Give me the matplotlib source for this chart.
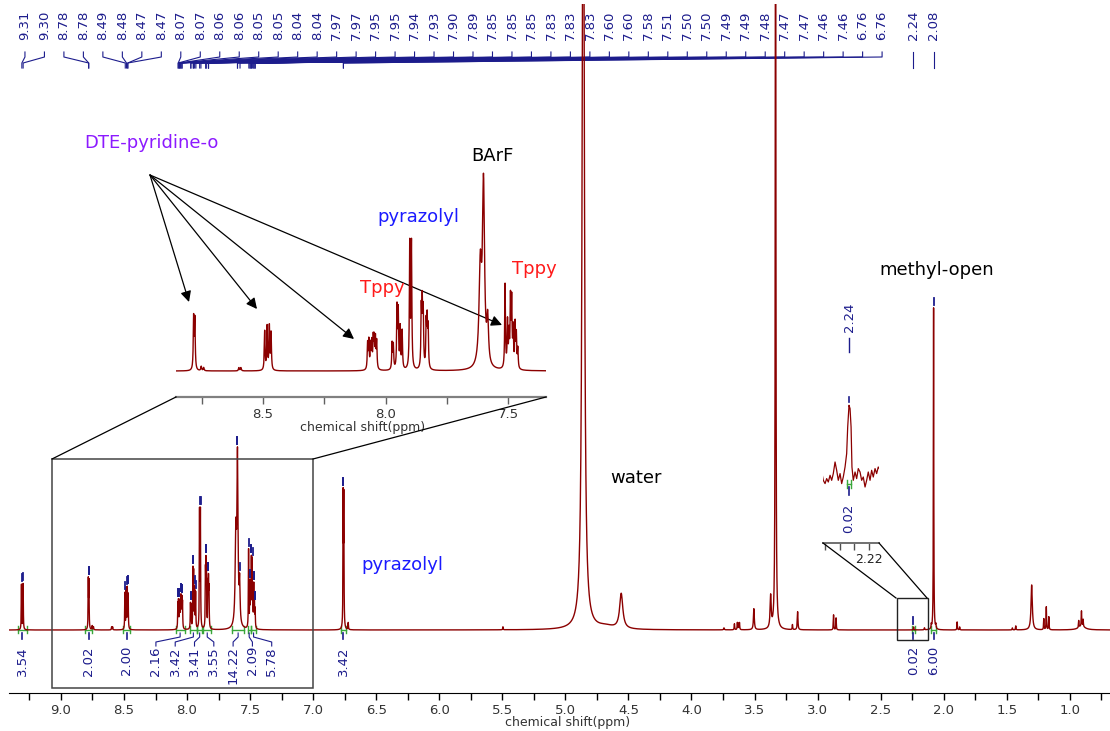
import numpy as np
import matplotlib
matplotlib.use("Agg")
import matplotlib.pyplot as plt
from matplotlib.patches import Rectangle
from matplotlib.lines import Line2D
from matplotlib.ticker import MultipleLocator, FixedLocator

W, H = 1110, 731

# ---- peaks (ppm, height in px above baseline, half width in ppm)
peak_ppm = [9.313, 9.300, 8.783, 8.778, 8.752, 8.742, 8.598, 8.590,
            8.493, 8.483, 8.474, 8.467,
            8.073, 8.068, 8.061, 8.056, 8.050, 8.046, 8.041, 8.036,
            7.973, 7.968, 7.953, 7.948, 7.940, 7.932, 7.901, 7.894,
            7.854, 7.850, 7.846, 7.834, 7.830, 7.826,
            7.613, 7.600, 7.583,
            7.512, 7.502, 7.496, 7.490, 7.485, 7.479, 7.471, 7.466, 7.460,
            6.762, 6.757, 6.722, 5.495,
            4.858, 4.680, 4.557, 3.742, 3.659, 3.636, 3.628, 3.619,
            3.505, 3.372, 3.333, 3.199, 3.158, 2.873, 2.853,
            2.238, 2.152, 2.098, 2.080, 2.062, 1.893, 1.873, 1.455, 1.428,
            1.302, 1.206, 1.186, 1.166, 0.929, 0.907, 0.894, 0.905]
peak_height = [45, 46, 48, 46, 4, 3, 3, 3,
               36, 40, 40, 34,
               24, 26, 22, 24, 27, 26, 27, 25,
               24, 22, 56, 52, 38, 35, 115, 115,
               52, 56, 50, 40, 42, 36,
               90, 165, 40,
               78, 42, 30, 62, 60, 35, 40, 30, 18,
               128, 126, 7, 3,
               940, 3, 35, 2, 6, 7, 6, 7,
               21, 32, 1000, 5, 18, 15, 12,
               3, 2, 4, 323, 4, 8, 3, 2, 4,
               45, 11, 23, 13, 7, 15, 7, 4]
peak_width = [0.0018] * 4 + [0.002] * 4 + [0.0018] * 26 + [0.006, 0.005, 0.004] \
    + [0.0018] * 9 + [0.0018, 0.0018, 0.002, 0.002] \
    + [0.0092, 0.08, 0.015, 0.003, 0.002, 0.002, 0.002, 0.002,
       0.004, 0.005, 0.0025, 0.002, 0.003, 0.002, 0.002,
       0.002, 0.002, 0.002, 0.0018, 0.002, 0.002, 0.002, 0.002, 0.002,
       0.006, 0.002, 0.002, 0.002, 0.002, 0.002, 0.002, 0.03]

# ---- peak picking labels
peak_labels = ["9.31", "9.30", "8.78", "8.78", "8.49", "8.48", "8.47", "8.47",
               "8.07", "8.07", "8.06", "8.06", "8.05", "8.05", "8.04", "8.04",
               "7.97", "7.97", "7.95", "7.95", "7.94", "7.93", "7.90", "7.89",
               "7.85", "7.85", "7.85", "7.83", "7.83", "7.83", "7.60", "7.60",
               "7.58", "7.51", "7.50", "7.50", "7.49", "7.49", "7.48", "7.47",
               "7.47", "7.46", "7.46", "6.76", "6.76", "2.24", "2.08"]

# ---- integrals
int_start = [9.34, 8.81, 8.51, 8.09, 7.98, 7.92, 7.87, 7.64, 7.52, 7.495, 6.78, 2.25, 2.10]
int_end = [9.27, 8.75, 8.45, 8.02, 7.92, 7.88, 7.81, 7.55, 7.495, 7.45, 6.74, 2.23, 2.06]
int_labels = ["3.54", "2.02", "2.00", "2.16", "3.42", "3.41", "3.55",
              "14.22", "2.09", "5.78", "3.42", "0.02", "6.00"]

# ---- zoomed noise trace around 2.24 ppm (small inset)
zoom_ppm = [2.2522, 2.2511, 2.2499, 2.2488, 2.2477, 2.2465, 2.2454, 2.2443, 2.2431,
            2.2420, 2.2409, 2.2397, 2.2386, 2.2375, 2.2363, 2.2352, 2.2345, 2.2336,
            2.2329, 2.2322, 2.2316, 2.2307, 2.2295, 2.2284, 2.2273, 2.2261, 2.2250,
            2.2239, 2.2227, 2.2216, 2.2205, 2.2193, 2.2182, 2.2171, 2.2159, 2.2148,
            2.2137, 2.2130]
zoom_int = [5, -3.3, -6.6, -1.6, -5, 1.7, -3.3, 3.4, 15, 6.7, -3.3, 3.4, -6.6, 0,
            10, 23.4, 50, 71.7, 68.4, 50, 10, -3.3, 5, -1.6, 8.4, 5, -3.3, 0, -10,
            -3.3, 5, -3.3, 6.7, 0, 8.4, 3.4, 10, 8.4]

RED = "#8b0000"
NAVY = "#1c1c8c"
GREEN = "#3aa63a"

ppm = np.linspace(0.66, 9.44, 28000)
spec = np.zeros_like(ppm)
for p, h, w in zip(peak_ppm, peak_height, peak_width):
    spec += h / (1 + ((ppm - p) / w) ** 2)


def fp(x, y):
    return x / W, 1 - y / H


fig = plt.figure(figsize=(W / 100, H / 100), dpi=100)

# ---------------- main axes (y data = 630 - y_px)
ax = fig.add_axes([9 / W, 1 - 693 / H, 1101 / W, 689 / H])
ax.set_facecolor("none")
ax.plot(ppm, spec, color=RED, lw=1.0, zorder=3)
ax.set_xlim(9.412, 0.681)
ax.set_ylim(-63, 626)
for s in ["left", "right", "top"]:
    ax.spines[s].set_visible(False)
ax.set_yticks([])
ax.xaxis.set_major_locator(MultipleLocator(0.5))
ax.xaxis.set_minor_locator(MultipleLocator(0.25))
ax.xaxis.set_major_formatter(plt.FormatStrFormatter("%.1f"))
ax.tick_params(axis="x", which="both", direction="out", length=5, width=1,
               labelsize=9.5, labelcolor="#333333", pad=3)
ax.set_xlabel("chemical shift(ppm)", fontsize=9, color="#333333")
ax.xaxis.set_label_coords((568 - 9) / 1101, -0.033)

# peak labels at the top
step = 19.48 / 126.1
for i, lab in enumerate(peak_labels):
    pv = float(lab)
    win = (ppm > pv - 0.005) & (ppm < pv + 0.005)
    top = spec[win].max()
    if i < 45:
        lx = 9.2855 - i * step
    else:
        lx = pv
    ax.text(lx, 590, lab, rotation=90, ha="center", va="bottom",
            fontsize=9.5, color=NAVY)
    ax.plot([lx, lx, pv, pv], [578, 573, 567, 562], color=NAVY, lw=0.8,
            clip_on=False)
    ax.plot([pv, pv], [top + 3, top + 10], color=NAVY, lw=1.3, zorder=4)

# integrals
istep = 19.3 / 126.1
k = 0
for s, e, lab in zip(int_start, int_end, int_labels):
    c = (s + e) / 2
    ax.plot([s, s], [-3, 4], color=GREEN, lw=1, zorder=2)
    ax.plot([e, e], [-3, 4], color=GREEN, lw=1, zorder=2)
    ax.plot([s, e], [0.5, 0.5], color=GREEN, lw=1, zorder=2)
    if 8.1 > c > 7.4:
        lx = 8.247 - k * istep
        k += 1
        ax.plot([lx, lx, c, c], [-16, -12, -7, -3], color=NAVY, lw=0.8)
    else:
        lx = c
        ax.plot([c, c], [-3, -9], color=NAVY, lw=1.2)
    ax.text(lx, -16, lab, rotation=90, ha="center", va="top",
            fontsize=9.5, color=NAVY)

# zoom rectangles
ax.add_patch(Rectangle((9.071, -58), 7.002 - 9.071, 229, fill=False,
                       edgecolor="#444444", lw=1.1, zorder=5))
ax.add_patch(Rectangle((2.373, -10), 2.127 - 2.373, 42, fill=False,
                       edgecolor="#222222", lw=1.0, zorder=5))

# annotations on main plot
ax.text(*fp(361, 565), "pyrazolyl", transform=fig.transFigure, fontsize=13,
        color="#1a1aff", ha="left", va="center")
ax.text(*fp(636, 478), "water", transform=fig.transFigure, fontsize=13,
        color="black", ha="center", va="center")
ax.text(*fp(937, 270), "methyl-open", transform=fig.transFigure, fontsize=13,
        color="black", ha="center", va="center")

# connector lines for insets
for (x1, y1), (x2, y2) in [((52, 459), (176, 397)), ((313, 459), (546, 397)),
                           ((823, 543), (896, 598)), ((879, 543), (927, 598))]:
    fig.add_artist(Line2D([x1 / W, x2 / W], [1 - y1 / H, 1 - y2 / H],
                          color="black", lw=0.9))

# ---------------- large inset (y data = 371 - y_px)
ax_in = fig.add_axes([176 / W, 1 - 397 / H, 370 / W, 257 / H])
ax_in.set_facecolor("none")
ax_in.plot(ppm, spec * 1.08, color=RED, lw=1.0)
ax_in.set_xlim(8.855, 7.345)
ax_in.set_ylim(-26, 231)
for s in ["left", "right", "top"]:
    ax_in.spines[s].set_visible(False)
ax_in.spines["bottom"].set_color("#808080")
ax_in.spines["bottom"].set_linewidth(1.6)
ax_in.set_yticks([])
ax_in.xaxis.set_major_locator(MultipleLocator(0.5))
ax_in.xaxis.set_minor_locator(MultipleLocator(0.25))
ax_in.xaxis.set_major_formatter(plt.FormatStrFormatter("%.1f"))
ax_in.tick_params(axis="x", which="both", direction="out", length=5, width=1,
                  color="#606060", labelsize=9.5, labelcolor="#333333", pad=3)
ax_in.set_xlabel("chemical shift(ppm)", fontsize=9, color="#333333")
ax_in.xaxis.set_label_coords(0.505, -0.095)

ax_in.text(*fp(492, 156), "BArF", transform=fig.transFigure, fontsize=13,
           color="black", ha="center", va="center")
ax_in.text(*fp(377, 217), "pyrazolyl", transform=fig.transFigure, fontsize=13,
           color="#1a1aff", ha="left", va="center")
ax_in.text(*fp(360, 288), "Tppy", transform=fig.transFigure, fontsize=13,
           color="#ff1a1a", ha="left", va="center")
t = ax_in.text(*fp(512, 269), "Tppy", transform=fig.transFigure, fontsize=13,
               color="#ff1a1a", ha="left", va="center")
t.set_clip_path(ax_in.patch)

fig.text(*fp(84, 143), "DTE-pyridine-o", fontsize=13, color="#8c1aff",
         ha="left", va="center")
for tip in [(189, 302), (257, 309), (354, 339), (502, 325)]:
    ax.annotate("", xy=fp(*tip), xytext=fp(150, 175),
                xycoords="figure fraction", textcoords="figure fraction",
                arrowprops=dict(arrowstyle="-|>", color="black", lw=0.9,
                                mutation_scale=16, shrinkA=0, shrinkB=0))

# ---------------- small inset around 2.24 ppm (y data = 477 - y_px)
ax_z = fig.add_axes([823 / W, 1 - 543 / H, 56 / W, 253 / H])
ax_z.set_facecolor("none")
ax_z.plot(zoom_ppm, zoom_int, color=RED, lw=0.9)
ax_z.set_xlim(2.2513, 2.2132)
ax_z.set_ylim(-66, 187)
for s in ["left", "right", "top"]:
    ax_z.spines[s].set_visible(False)
ax_z.spines["bottom"].set_color("#707070")
ax_z.spines["bottom"].set_linewidth(1.4)
ax_z.set_yticks([])
ax_z.xaxis.set_major_locator(FixedLocator([2.22]))
ax_z.xaxis.set_minor_locator(FixedLocator([2.25, 2.24, 2.23]))
ax_z.xaxis.set_major_formatter(plt.FormatStrFormatter("%.2f"))
ax_z.tick_params(axis="x", which="both", direction="out", length=5, width=1,
                 color="#505050", labelsize=9, labelcolor="#222222", pad=2)
zp = zoom_ppm[int(np.argmax(zoom_int))]
ax_z.plot([zp, zp], [75, 80], color=NAVY, lw=1.2, clip_on=False)
ax_z.plot([zp, zp], [125, 139], color=NAVY, lw=1.0, clip_on=False)
ax_z.text(zp, 145, "2.24", rotation=90, ha="center", va="bottom",
          fontsize=9.5, color=NAVY)
ax_z.plot([zp + 0.0012, zp + 0.0012], [-3, -11], color=GREEN, lw=1)
ax_z.plot([zp - 0.0012, zp - 0.0012], [-3, -11], color=GREEN, lw=1)
ax_z.plot([zp + 0.0012, zp - 0.0012], [-7, -7], color=GREEN, lw=1)
ax_z.plot([zp, zp], [-10, -18], color=NAVY, lw=1.2)
ax_z.text(zp, -27, "0.02", rotation=90, ha="center", va="top",
          fontsize=9.5, color=NAVY)

fig.savefig("out.png", dpi=100)
